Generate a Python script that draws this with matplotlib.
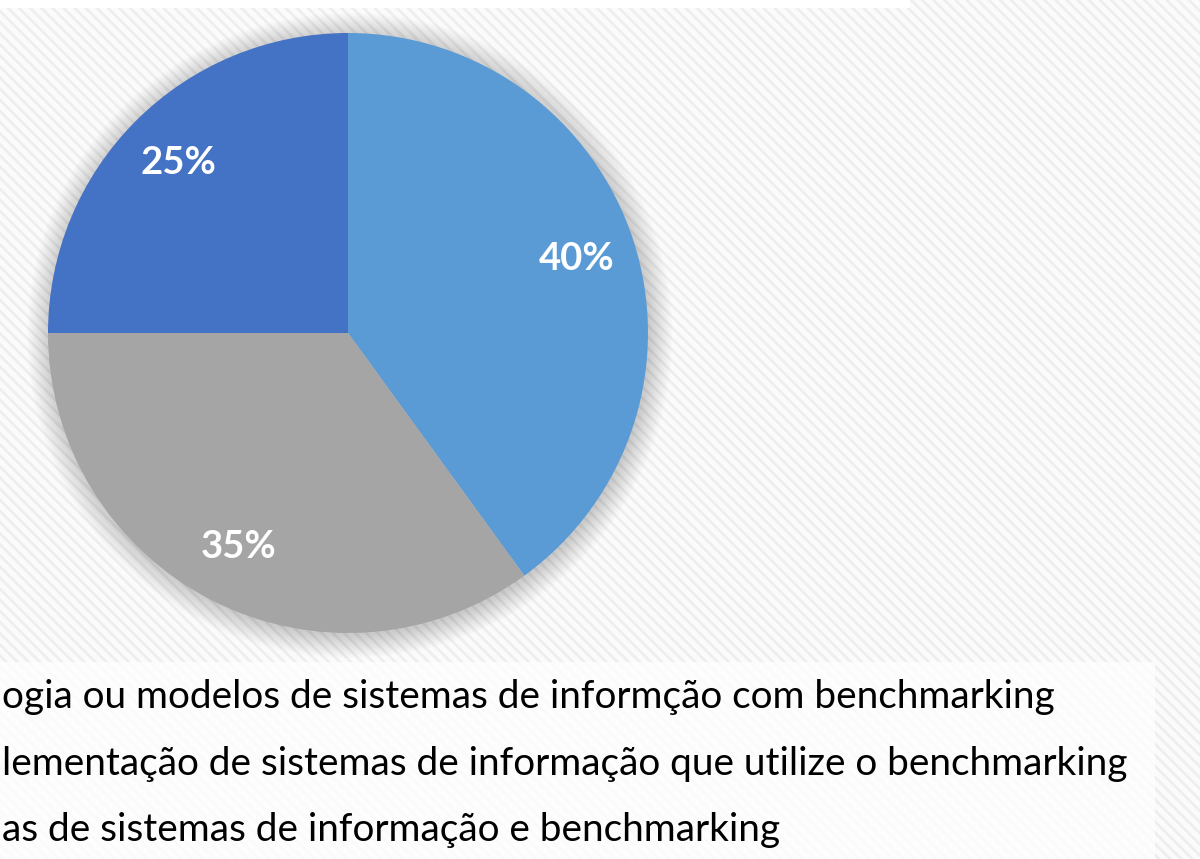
import matplotlib
matplotlib.use("Agg")
import matplotlib.pyplot as plt
from matplotlib.patches import Rectangle, Circle

plt.rcParams['font.family'] = ['Lato', 'DejaVu Sans']
plt.rcParams['hatch.linewidth'] = 2.0

# data
shares = [40, 35, 25]
colors = ['#5B9BD5', '#A5A5A5', '#4472C4']
legend_labels = [
    'ogia ou modelos de sistemas de informção com benchmarking',
    'lementação de sistemas de informação que utilize o benchmarking',
    'as de sistemas de informação e benchmarking',
]

W, H = 1200, 859
fig = plt.figure(figsize=(W / 100, H / 100), dpi=100)

# background in pixel coords
bg = fig.add_axes([0, 0, 1, 1])
bg.set_xlim(0, W)
bg.set_ylim(H, 0)
bg.axis('off')
bg.add_patch(Rectangle((0, 0), W, H, facecolor='#fbfbfb', edgecolor='#eeeeee',
                       linewidth=0, hatch='\\\\\\'))
bg.add_patch(Rectangle((0, 0), 910, 8, facecolor='white', edgecolor='none'))
bg.add_patch(Rectangle((0, 662), 1155, H - 662, facecolor='white',
                       edgecolor='none', alpha=0.75))

# legend text (clipped on the left like the original)
for i, lab in enumerate(legend_labels):
    bg.text(2, 697 + i * 66.5, lab, fontsize=27.9, color='black',
            va='center', ha='left')

# pie
ax = fig.add_axes([48 / W, (H - 633) / H, 600 / W, 600 / H])
ax.set_xlim(-1, 1)
ax.set_ylim(-1, 1)
ax.set_aspect('equal')
ax.axis('off')

# soft shadow
for k in range(16):
    ax.add_patch(Circle((0.006, -0.008), 1.0 + 0.005 * k, facecolor='#000000',
                        edgecolor='none', alpha=0.01, zorder=0, clip_on=False))

wedges, texts, autotexts = ax.pie(
    shares, colors=colors, startangle=90, counterclock=False,
    autopct='%d%%', pctdistance=0.8, radius=1.0,
    wedgeprops=dict(linewidth=0, edgecolor='none'),
    textprops=dict(color='white', fontsize=27.5, fontweight='bold'))
for w in wedges:
    w.set_clip_on(False)
ax.set_xlim(-1, 1)
ax.set_ylim(-1, 1)

fig.savefig('out.png', dpi=100)
